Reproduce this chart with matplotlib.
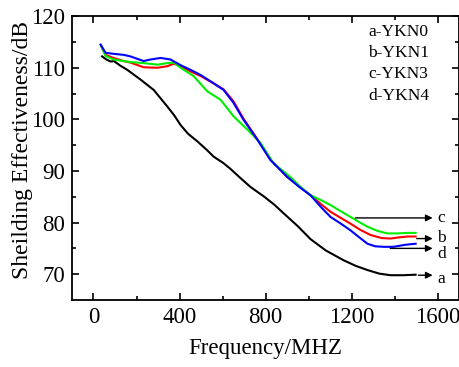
import matplotlib
matplotlib.use("Agg")
import matplotlib.pyplot as plt
import numpy as np

plt.rcParams['font.family'] = ['Liberation Serif', 'DejaVu Serif']

# Series a-YKN0 (black)
f_a = [40, 60, 80, 95, 125, 157, 219, 280, 343, 375, 405, 440, 484, 529, 558, 605, 637, 684, 730, 791, 840, 884, 950, 1009, 1080, 1163, 1220, 1274, 1330, 1381, 1440, 1498]
v_a = [112.2, 111.6, 111.2, 111.3, 110.4, 109.6, 107.7, 105.7, 102.5, 100.8, 98.9, 97.2, 95.7, 94.0, 92.8, 91.5, 90.4, 88.6, 86.9, 85.1, 83.5, 81.8, 79.3, 76.8, 74.6, 72.7, 71.6, 70.8, 70.1, 69.8, 69.8, 69.9]
# Series b-YKN1 (red)
f_b = [35, 56, 93, 140, 172, 233, 298, 343, 374, 405, 451, 498, 558, 605, 651, 698, 763, 823, 902, 963, 1009, 1060, 1102, 1150, 1195, 1240, 1288, 1340, 1381, 1414, 1460, 1498]
v_b = [114.3, 112.5, 111.9, 111.3, 111.0, 110.1, 110.0, 110.3, 110.8, 110.3, 109.3, 108.4, 107.0, 105.8, 103.5, 100.1, 96.1, 92.2, 88.8, 86.8, 85.3, 83.5, 82.1, 80.9, 79.8, 78.6, 77.6, 77.0, 76.9, 77.1, 77.3, 77.3]
# Series c-YKN3 (green)
f_c = [35, 56, 93, 140, 172, 233, 298, 343, 374, 405, 465, 530, 591, 651, 716, 777, 837, 916, 963, 1009, 1060, 1102, 1150, 1195, 1240, 1274, 1320, 1367, 1414, 1460, 1498]
v_c = [114.3, 112.3, 111.6, 111.3, 111.1, 110.9, 110.6, 110.9, 111.0, 110.0, 108.4, 105.4, 103.8, 100.6, 98.0, 95.4, 91.5, 88.8, 86.9, 85.3, 84.3, 83.4, 82.2, 81.1, 80.0, 79.2, 78.4, 77.9, 77.9, 78.0, 78.0]
# Series d-YKN4 (blue)
f_d = [33, 56, 93, 140, 172, 233, 265, 312, 358, 405, 451, 498, 558, 605, 651, 698, 763, 823, 902, 963, 1009, 1060, 1102, 1150, 1195, 1240, 1274, 1310, 1350, 1395, 1450, 1498]
v_d = [114.5, 112.9, 112.7, 112.5, 112.2, 111.3, 111.6, 111.9, 111.6, 110.5, 109.6, 108.6, 107.0, 105.7, 103.2, 99.9, 96.0, 92.1, 88.8, 86.7, 85.3, 82.9, 81.1, 79.8, 78.5, 77.0, 75.9, 75.4, 75.3, 75.3, 75.7, 75.9]

legend_labels = ["a-YKN0", "b-YKN1", "c-YKN3", "d-YKN4"]
arrow_letters = ["a", "b", "c", "d"]
arrow_start_f = [1498, 1490, 1205, 1367]
arrow_y = [69.8, 76.9, 80.9, 75.0]

fig = plt.figure(figsize=(4.6, 3.67), dpi=100)
ax = fig.add_axes([0.1565, 0.1826, 0.8415, 0.7734])

ax.plot(f_a, v_a, color='black', lw=1.5)
ax.plot(f_b, v_b, color='#ff0000', lw=1.5)
ax.plot(f_c, v_c, color='#00ee00', lw=1.5)
ax.plot(f_d, v_d, color='#0000ff', lw=1.5)

ax.set_xlim(-100, 1700)
ax.set_ylim(65, 120)
ax.set_xticks([0, 400, 800, 1200, 1600])
ax.set_yticks([70, 80, 90, 100, 110, 120])
ax.set_xticks(np.arange(200, 1700, 400), minor=True)
ax.set_yticks(np.arange(75, 120, 10), minor=True)
ax.tick_params(which='both', direction='in', top=True, right=True, labelsize=16.5, width=1.2)
ax.tick_params(which='major', length=5, pad=5)
ax.tick_params(which='minor', length=3)
for s in ax.spines.values():
    s.set_linewidth(1.3)

ax.set_xlabel("Frequency/MHZ", fontsize=16.5, labelpad=7)
ax.set_ylabel("Sheilding Effectiveness/dB", fontsize=17)
ax.yaxis.set_label_coords(-0.10, 0.53)

for i, lab in enumerate(legend_labels):
    ax.text(0.765, 0.945 - i * 0.075, lab, transform=ax.transAxes, fontsize=12.5, va='center', ha='left')

label_dy = {"a": -0.7, "b": 0.2, "c": 0.0, "d": -1.0}
for letter, fs, yv in zip(arrow_letters, arrow_start_f, arrow_y):
    ax.annotate("", xy=(1590, yv), xytext=(fs, yv),
                arrowprops=dict(arrowstyle='-|>', color='black', lw=1.0, mutation_scale=10))
    ax.text(1598, yv + label_dy[letter], letter, fontsize=12.5, va='center', ha='left')

fig.savefig("out.png", dpi=100)
